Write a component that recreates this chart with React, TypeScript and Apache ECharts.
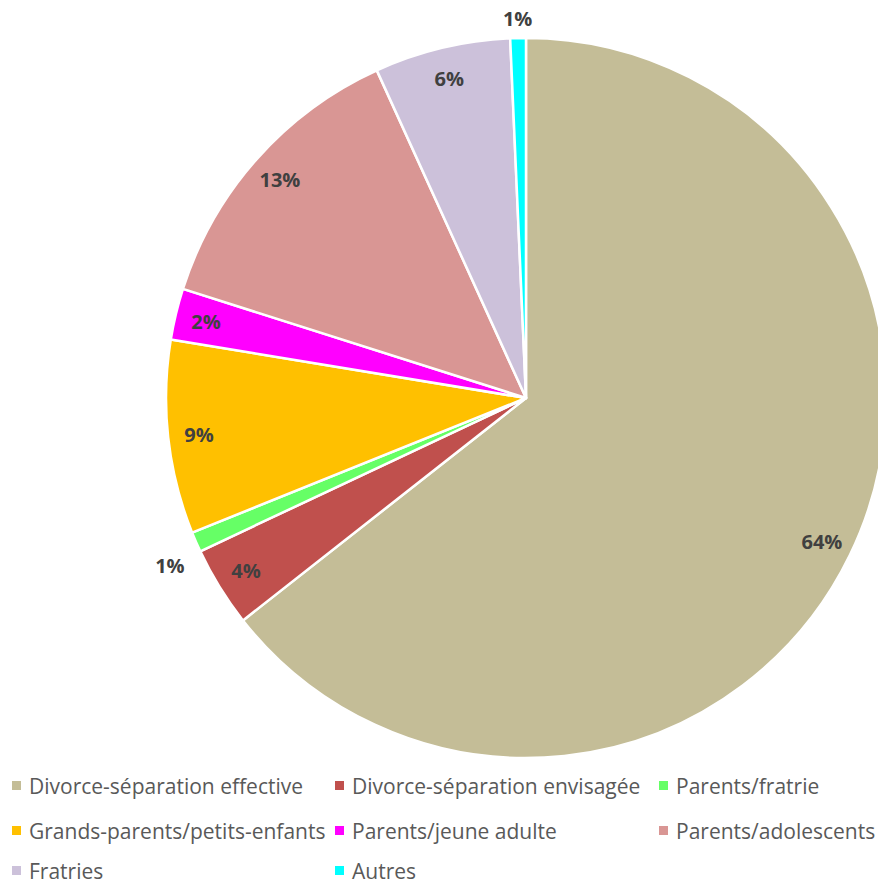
import React, { useEffect, useRef } from 'react';
import * as echarts from 'echarts';

const categories = [
  'Divorce-séparation effective',
  'Divorce-séparation envisagée',
  'Parents/fratrie',
  'Grands-parents/petits-enfants',
  'Parents/jeune adulte',
  'Parents/adolescents',
  'Fratries',
  'Autres',
];
const shares = [64.4, 3.6, 0.9, 8.7, 2.3, 13.3, 6.1, 0.7];
const colors = ['#C4BD97', '#C0504D', '#66FF66', '#FFC000', '#FF00FF', '#D99694', '#CCC1DA', '#00FFFF'];
const farLabel = 'Parents/fratrie';
const nearLabel = 'Autres';

const labelFmt = (p: any) => Math.round(p.percent) + '%';
const labelStyle = {
  fontFamily: 'Open Sans',
  fontWeight: 'bold' as const,
  fontSize: 20,
  color: '#404040',
};

function overlay(radius: number[], show: (name: string) => boolean, offset?: number[]) {
  return {
    type: 'pie',
    silent: true,
    center: [526, 398],
    radius,
    startAngle: 90,
    clockwise: true,
    avoidLabelOverlap: false,
    itemStyle: { color: 'rgba(0,0,0,0)', borderWidth: 0 },
    labelLine: { show: false },
    data: categories.map((name, i) => ({
      name,
      value: shares[i],
      label: {
        show: show(name),
        position: 'inside',
        formatter: labelFmt,
        ...(offset ? { offset } : {}),
        ...labelStyle,
      },
    })),
    z: 5,
  };
}

export default function App() {
  const ref = useRef<HTMLDivElement>(null);
  useEffect(() => {
    if (!ref.current) return;
    const chart = echarts.init(ref.current, undefined, { renderer: 'svg' });
    const colX = [12, 335, 659];
    const rowY = [775, 820, 860];
    chart.setOption({
      animation: false,
      backgroundColor: '#ffffff',
      legend: categories.map((name, i) => ({
        orient: 'horizontal',
        left: colX[i % 3],
        top: rowY[Math.floor(i / 3)],
        padding: 0,
        itemWidth: 9,
        itemHeight: 9,
        icon: 'rect',
        selectedMode: false,
        itemStyle: { borderWidth: 0 },
        data: [name],
        textStyle: {
          fontFamily: 'Open Sans',
          fontSize: 21,
          color: '#595959',
          lineHeight: 18,
          padding: [0, 0, 0, 3],
        },
      })),
      series: [
        {
          type: 'pie',
          center: [526, 398],
          radius: 360,
          startAngle: 90,
          clockwise: true,
          avoidLabelOverlap: false,
          label: { show: false },
          labelLine: { show: false },
          itemStyle: { borderColor: '#ffffff', borderWidth: 2.5 },
          data: categories.map((name, i) => ({
            name,
            value: shares[i],
            itemStyle: { color: colors[i] },
          })),
        },
        overlay([296, 356], (n) => n !== farLabel && n !== nearLabel),
        overlay([362, 392], (n) => n === nearLabel),
        overlay([372, 410], (n) => n === farLabel, [5, 10]),
      ],
    });
    return () => chart.dispose();
  }, []);
  return (
    <div
      ref={ref}
      style={{ position: 'fixed', left: 0, top: 0, width: 878, height: 883 }}
    />
  );
}
